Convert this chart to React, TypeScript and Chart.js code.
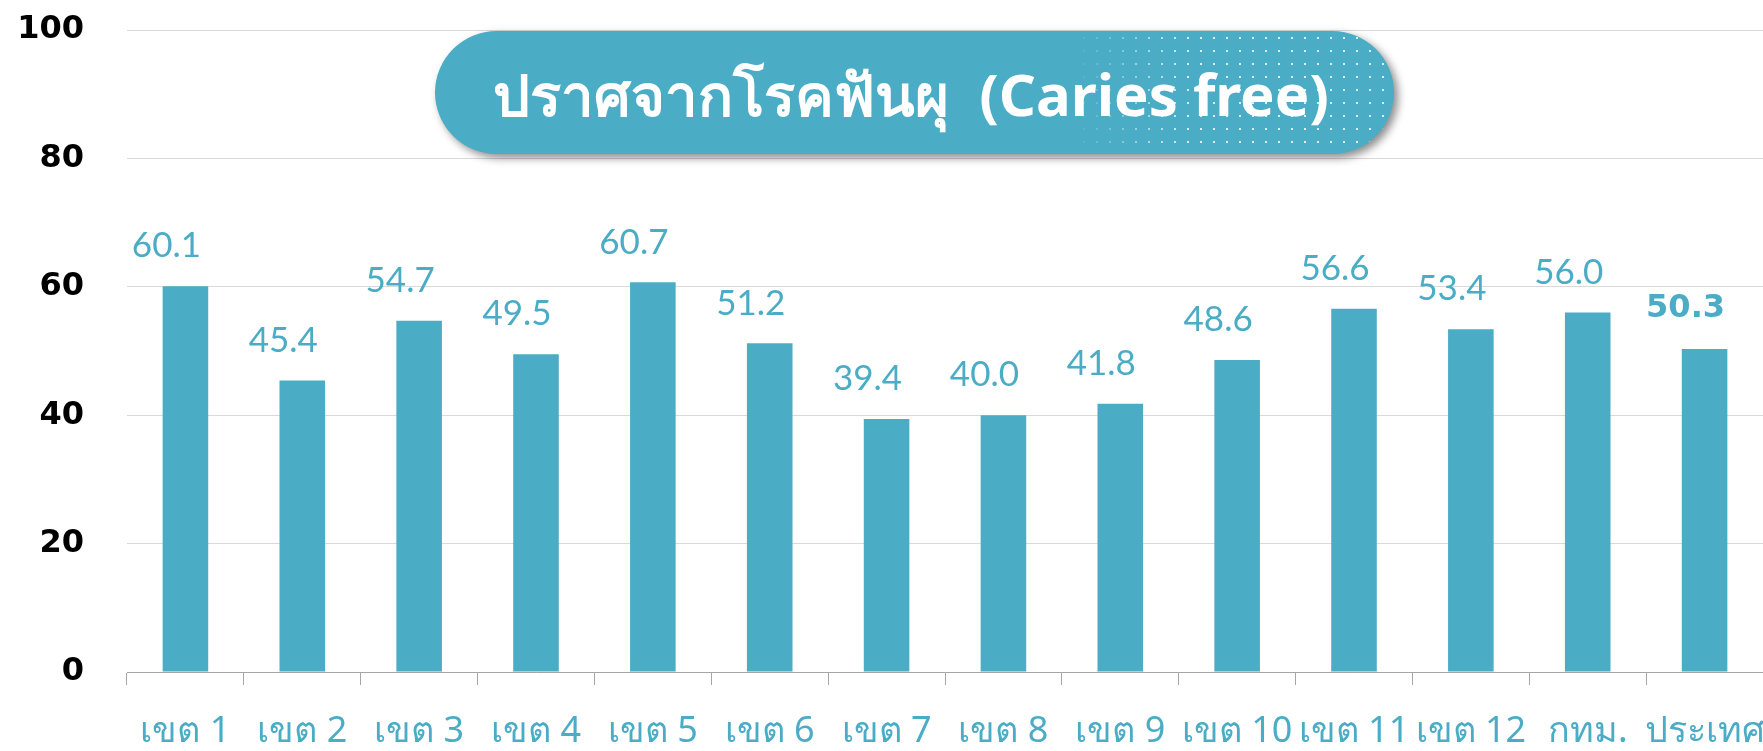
import React, { useEffect, useRef } from "react";
import { Chart, registerables } from "chart.js";

Chart.register(...registerables);

const categories = ["เขต 1", "เขต 2", "เขต 3", "เขต 4", "เขต 5", "เขต 6", "เขต 7", "เขต 8", "เขต 9", "เขต 10", "เขต 11", "เขต 12", "กทม.", "ประเทศ"];
const values = [60.1, 45.4, 54.7, 49.5, 60.7, 51.2, 39.4, 40.0, 41.8, 48.6, 56.6, 53.4, 56.0, 50.3];
const titleText = "ปราศจากโรคฟันผุ  (Caries free)";
const yMin = 0;
const yMax = 100;
const yStep = 20;

const BLUE = "#4BACC6";

const labelPlugin = {
  id: "valueLabels",
  afterDatasetsDraw(chart: any) {
    const ctx = chart.ctx;
    const meta = chart.getDatasetMeta(0);
    ctx.save();
    ctx.fillStyle = BLUE;
    ctx.textAlign = "center";
    ctx.textBaseline = "middle";
    meta.data.forEach((bar: any, i: number) => {
      const last = i === values.length - 1;
      ctx.font = last ? "700 32px 'DejaVu Sans', sans-serif" : "400 35px Lato, 'Open Sans', sans-serif";
      ctx.fillText(values[i].toFixed(1), bar.x - 19, bar.y - 40);
    });
    ctx.restore();
  },
};

const titlePlugin = {
  id: "titlePill",
  afterDraw(chart: any) {
    const ctx = chart.ctx;
    const x0 = 435, x1 = 1394, y0 = 31, y1 = 154;
    const r = (y1 - y0) / 2;
    const path = () => {
      ctx.beginPath();
      ctx.moveTo(x0 + r, y0);
      ctx.lineTo(x1 - r, y0);
      ctx.arc(x1 - r, y0 + r, r, -Math.PI / 2, Math.PI / 2);
      ctx.lineTo(x0 + r, y1);
      ctx.arc(x0 + r, y0 + r, r, Math.PI / 2, (3 * Math.PI) / 2);
      ctx.closePath();
    };
    ctx.save();
    ctx.shadowColor = "rgba(0,0,0,0.45)";
    ctx.shadowBlur = 8;
    ctx.shadowOffsetX = 4;
    ctx.shadowOffsetY = 4;
    path();
    ctx.fillStyle = BLUE;
    ctx.fill();
    ctx.restore();

    ctx.save();
    path();
    ctx.clip();
    const dx0 = 1070;
    for (let x = dx0; x < x1; x += 13) {
      const a = Math.min(1, (x - dx0) / 120) * 0.8;
      for (let y = y0 + 6; y < y1; y += 13) {
        ctx.fillStyle = `rgba(255,255,255,${a})`;
        ctx.fillRect(x, y, 2, 2);
      }
    }
    ctx.restore();

    ctx.save();
    ctx.fillStyle = "#ffffff";
    ctx.font = "700 58px 'Noto Sans', Lato, sans-serif";
    ctx.textAlign = "center";
    ctx.textBaseline = "middle";
    ctx.fillText(titleText, 911, 99);
    ctx.restore();
  },
};

export default function App() {
  const ref = useRef<HTMLCanvasElement>(null);
  useEffect(() => {
    document.body.style.margin = "0";
    const chart = new Chart(ref.current!, {
      type: "bar",
      data: {
        labels: categories,
        datasets: [
          {
            data: values,
            backgroundColor: BLUE,
            borderWidth: 0,
            barPercentage: 0.39,
            categoryPercentage: 1,
          },
        ],
      },
      options: {
        responsive: false,
        animation: false,
        layout: { padding: { top: 0, right: 0, left: 0, bottom: 0 } },
        plugins: { legend: { display: false }, tooltip: { enabled: false } },
        scales: {
          x: {
            grid: { drawOnChartArea: false, drawTicks: true, tickLength: 13, color: "#a6a6a6", offset: true },
            border: { color: "#a6a6a6", width: 1 },
            ticks: {
              color: BLUE,
              font: { size: 36, family: "'Noto Sans', sans-serif" },
              padding: 25,
              maxRotation: 0,
              autoSkip: false,
            },
            afterFit(scale: any) {
              scale.height = 79;
              scale.paddingRight = 0;
              scale.paddingLeft = 0;
            },
          },
          y: {
            min: yMin,
            max: yMax,
            ticks: {
              stepSize: yStep,
              color: "#000000",
              font: { size: 32, weight: "bold", family: "'DejaVu Sans', sans-serif" },
              padding: 43,
            },
            grid: { color: "#d9d9d9", drawTicks: false },
            border: { display: false },
            afterFit(scale: any) {
              scale.width = 127;
              scale.paddingTop = 30;
              scale.paddingBottom = 0;
            },
          },
        },
      },
      plugins: [labelPlugin, titlePlugin],
    });
    return () => chart.destroy();
  }, []);
  return <canvas ref={ref} width={1763} height={751} style={{ display: "block" }} />;
}
